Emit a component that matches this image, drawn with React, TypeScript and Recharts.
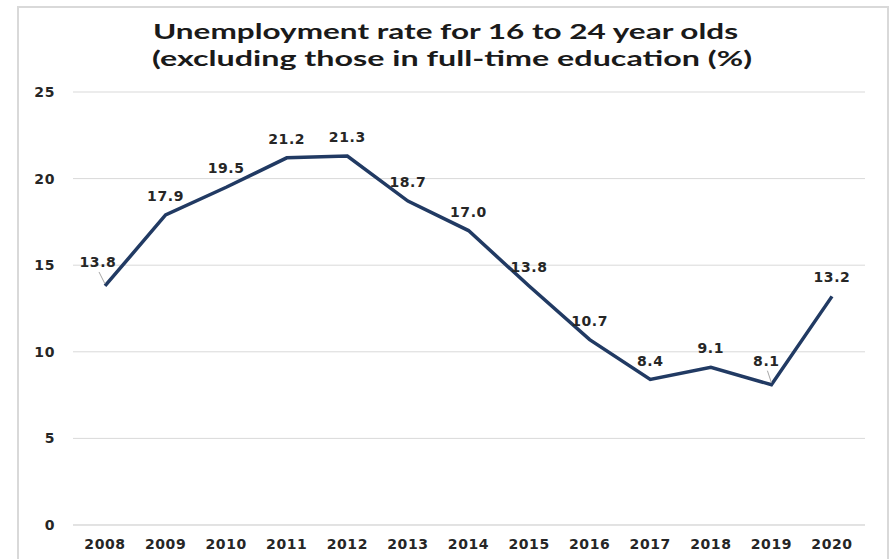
import React from 'react'
import { LineChart, Line, XAxis, YAxis, CartesianGrid, LabelList } from 'recharts'

const years = ['2008', '2009', '2010', '2011', '2012', '2013', '2014', '2015', '2016', '2017', '2018', '2019', '2020']
const rates = [13.8, 17.9, 19.5, 21.2, 21.3, 18.7, 17.0, 13.8, 10.7, 8.4, 9.1, 8.1, 13.2]
const yTicks = [0, 5, 10, 15, 20, 25]
const titleLines = ['Unemployment rate for 16 to 24 year olds', '(excluding those in full-time education (%)']

const data = years.map((year, i) => ({ year, rate: rates[i] }))

const FONT = '"DejaVu Sans", Verdana, sans-serif'
const LINE_COLOR = '#213a63'
const TEXT_COLOR = '#262626'

// labels that Excel nudged away from the line get a small grey leader line
const RateLabel = (props: any) => {
  const { x, y, value, index } = props
  const moved = index === 0 || index === 11
  const dx = index === 0 ? -7 : index === 11 ? -5 : 0
  const dy = moved ? -24 : -19
  return (
    <g>
      {moved && (
        <line x1={x + dx + 1} y1={y + dy + 10} x2={x} y2={y - 2} stroke="#a6a6a6" strokeWidth={1} />
      )}
      <text
        x={x + dx}
        y={y + dy}
        textAnchor="middle"
        dominantBaseline="central"
        fontFamily={FONT}
        fontWeight="bold"
        fontSize={14}
        letterSpacing={0.6}
        fill={TEXT_COLOR}
      >
        {Number(value).toFixed(1)}
      </text>
    </g>
  )
}

const tickStyle = { fontFamily: FONT, fontWeight: 'bold', fontSize: 14, letterSpacing: 0.6, fill: TEXT_COLOR }

export default function App() {
  return (
    <div style={{ position: 'absolute', left: 0, top: 0, width: 894, height: 559, background: '#fff', overflow: 'hidden' }}>
      <div
        style={{
          position: 'absolute',
          left: 17,
          top: 6,
          width: 872,
          height: 600,
          border: '2px solid #d9d9d9',
          boxSizing: 'border-box',
        }}
      />
      <svg width={894} height={80} style={{ position: 'absolute', left: 0, top: 0 }}>
        <text
          x={153}
          y={39}
          textLength={585}
          lengthAdjust="spacingAndGlyphs"
          fontFamily="Lato, 'Open Sans', sans-serif"
          fontWeight="bold"
          fontSize={21}
          fill="#1a1a1a"
        >
          {titleLines[0]}
        </text>
        <text
          x={152}
          y={66}
          textLength={600}
          lengthAdjust="spacingAndGlyphs"
          fontFamily="Lato, 'Open Sans', sans-serif"
          fontWeight="bold"
          fontSize={21}
          fill="#1a1a1a"
        >
          {titleLines[1]}
        </text>
      </svg>
      <LineChart
        width={894}
        height={559}
        data={data}
        margin={{ top: 92, right: 29, bottom: 4, left: 0 }}
        style={{ position: 'absolute', left: 0, top: 0 }}
      >
        <CartesianGrid vertical={false} stroke="#d9d9d9" strokeWidth={1} />
        <XAxis
          dataKey="year"
          height={30}
          padding={{ left: 32, right: 33 }}
          axisLine={{ stroke: '#d9d9d9' }}
          tickLine={false}
          tickSize={0}
          tickMargin={14}
          tick={tickStyle}
        />
        <YAxis
          width={73}
          domain={[0, 25]}
          ticks={yTicks}
          axisLine={false}
          tickLine={false}
          tickSize={0}
          tickMargin={18}
          tick={tickStyle}
        />
        <Line
          type="linear"
          dataKey="rate"
          stroke={LINE_COLOR}
          strokeWidth={3.5}
          dot={false}
          isAnimationActive={false}
        >
          <LabelList dataKey="rate" content={<RateLabel />} />
        </Line>
      </LineChart>
    </div>
  )
}
